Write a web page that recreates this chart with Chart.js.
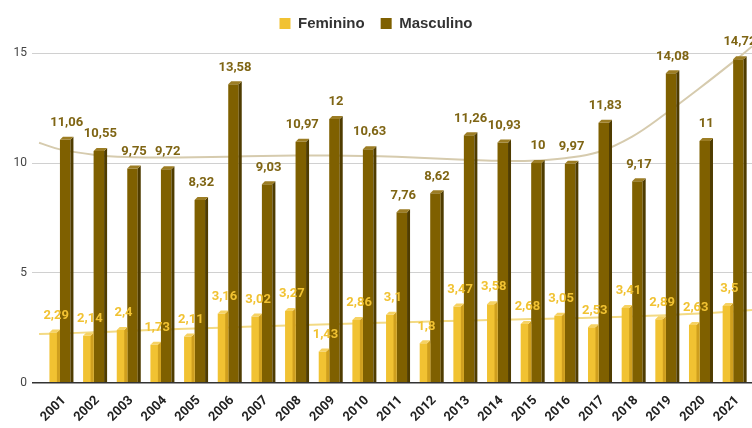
<!DOCTYPE html>
<html lang="pt">
<head>
  <meta charset="UTF-8">
  <title>Feminino x Masculino 2001-2021</title>
  <script src="https://cdn.jsdelivr.net/npm/chart.js"></script>
  <style>
    html, body { margin: 0; padding: 0; background: #fff; }
    #wrap { width: 752px; height: 428px; }
  </style>
</head>
<body>
  <div id="wrap"><canvas id="chart" width="752" height="428"></canvas></div>

  <script>
    // data
    const years = ['2001', '2002', '2003', '2004', '2005', '2006', '2007', '2008', '2009', '2010', '2011',
                   '2012', '2013', '2014', '2015', '2016', '2017', '2018', '2019', '2020', '2021'];
    const feminino = [2.29, 2.14, 2.4, 1.73, 2.11, 3.16, 3.02, 3.27, 1.43, 2.86, 3.1,
                      1.8, 3.47, 3.58, 2.68, 3.05, 2.53, 3.41, 2.89, 2.63, 3.5];
    const masculino = [11.06, 10.55, 9.75, 9.72, 8.32, 13.58, 9.03, 10.97, 12, 10.63, 7.76,
                       8.62, 11.26, 10.93, 10, 9.97, 11.83, 9.17, 14.08, 11, 14.72];

    // trend lines (position = year index)
    const trendPos = [-0.62, 0, 1, 2, 3, 4, 5, 6, 7, 8, 9, 10, 11, 12, 13, 14, 15, 16, 17, 18, 19, 20, 20.56];
    const trendMasc = [10.92, 10.62, 10.38, 10.27, 10.25, 10.26, 10.29, 10.32, 10.34, 10.34, 10.32, 10.28,
                       10.22, 10.15, 10.1, 10.1, 10.22, 10.5, 11.2, 12.25, 13.4, 14.6, 15.3];
    const trendFem = [2.22, 2.25, 2.3, 2.36, 2.42, 2.47, 2.52, 2.58, 2.62, 2.67, 2.71, 2.75,
                      2.79, 2.83, 2.87, 2.9, 2.94, 2.97, 3.02, 3.08, 3.16, 3.25, 3.32];

    const yTicks = [0, 5, 10, 15];

    const colors = {
      Feminino: { front: '#f1c232', side: '#cf9f1e', top: '#f6d262', label: '#f1c232' },
      Masculino: { front: '#7f6000', side: '#4f3c00', top: '#9c7d24', label: '#7f6514' }
    };

    const pts = (xs, ys) => ys.map((v, i) => ({ x: xs[i], y: v }));
    const idx = years.map((_, i) => i);

    // fake 3d faces on every bar
    // Feminino keeps its side inside its own rect so the Masculino bar next to it stays clean
    const bar3d = {
      id: 'bar3d',
      afterDatasetDraw(chart, args) {
        const ds = chart.data.datasets[args.index];
        if (ds.type !== 'bar') return;
        const c = colors[ds.label];
        const ctx = chart.ctx;
        const d = 3;
        const inside = ds.label === 'Feminino';
        ctx.save();
        args.meta.data.forEach(el => {
          const { x, y, base, width } = el.getProps(['x', 'y', 'base', 'width'], true);
          const l = x - width / 2;
          const r = inside ? x + width / 2 - d : x + width / 2;
          ctx.fillStyle = c.side;
          ctx.beginPath();
          ctx.moveTo(r, y); ctx.lineTo(r + d, y - d); ctx.lineTo(r + d, base); ctx.lineTo(r, base);
          ctx.closePath(); ctx.fill();
          ctx.fillStyle = c.top;
          ctx.beginPath();
          ctx.moveTo(l, y); ctx.lineTo(l + d, y - d); ctx.lineTo(r + d, y - d); ctx.lineTo(r, y);
          ctx.closePath(); ctx.fill();
        });
        ctx.restore();
      }
    };

    // value labels above the bars, with decimal comma
    const valueLabels = {
      id: 'valueLabels',
      afterDatasetsDraw(chart) {
        const ctx = chart.ctx;
        ctx.save();
        ctx.font = 'bold 13px Roboto, Arial, sans-serif';
        ctx.textAlign = 'center';
        ctx.textBaseline = 'middle';
        chart.data.datasets.forEach((ds, i) => {
          if (ds.type !== 'bar') return;
          const meta = chart.getDatasetMeta(i);
          ctx.fillStyle = colors[ds.label].label;
          meta.data.forEach((el, j) => {
            const txt = String(ds.data[j].y).replace('.', ',');
            ctx.fillText(txt, el.x + 1.5, el.y - 17);
          });
        });
        ctx.restore();
      }
    };

    new Chart(document.getElementById('chart'), {
      data: {
        datasets: [
          {
            type: 'bar', label: 'Feminino', data: pts(idx, feminino), order: 1,
            backgroundColor: colors.Feminino.front, categoryPercentage: 0.624, barPercentage: 1
          },
          {
            type: 'bar', label: 'Masculino', data: pts(idx, masculino), order: 1,
            backgroundColor: colors.Masculino.front, categoryPercentage: 0.624, barPercentage: 1
          },
          {
            type: 'line', label: 'trend Masculino', data: pts(trendPos, trendMasc), order: 4,
            borderColor: '#d6cbae', borderWidth: 2, pointRadius: 0, tension: 0.4, clip: false
          },
          {
            type: 'line', label: 'trend Feminino', data: pts(trendPos, trendFem), order: 3,
            borderColor: '#f3da84', borderWidth: 2, pointRadius: 0, tension: 0.4, clip: false
          }
        ]
      },
      options: {
        responsive: false,
        animation: false,
        layout: { padding: { top: 0, right: 0, bottom: 1, left: 0 } },
        plugins: {
          legend: {
            position: 'top',
            labels: {
              boxWidth: 11, boxHeight: 11, padding: 16,
              color: '#333', font: { family: 'Arial, "Liberation Sans", sans-serif', size: 15, weight: 'bold' },
              filter: item => !item.text.startsWith('trend')
            }
          },
          tooltip: { enabled: false }
        },
        scales: {
          x: {
            type: 'linear',
            offset: false,
            min: -0.83, max: 20.56,
            grid: { display: false },
            border: { display: false },
            ticks: {
              stepSize: 1, autoSkip: false, includeBounds: false,
              minRotation: 45, maxRotation: 45, padding: 2, labelOffset: 4,
              color: '#222', font: { family: 'Roboto, Arial, sans-serif', size: 13, weight: 'bold' },
              callback: v => (Number.isInteger(v) && v >= 0 && v < years.length) ? years[v] : ''
            }
          },
          y: {
            min: 0, max: 15.55,
            afterBuildTicks: s => { s.ticks = yTicks.map(v => ({ value: v })); },
            afterFit: s => { s.width = 32; },
            border: { display: false },
            grid: {
              drawTicks: false,
              color: c => c.tick.value === 0 ? '#333' : '#d0d0d0',
              lineWidth: c => c.tick.value === 0 ? 1.5 : 1
            },
            ticks: { padding: 5, color: '#444', font: { family: 'Roboto, Arial, sans-serif', size: 12 } }
          }
        }
      },
      plugins: [bar3d, valueLabels]
    });
  </script>
</body>
</html>
